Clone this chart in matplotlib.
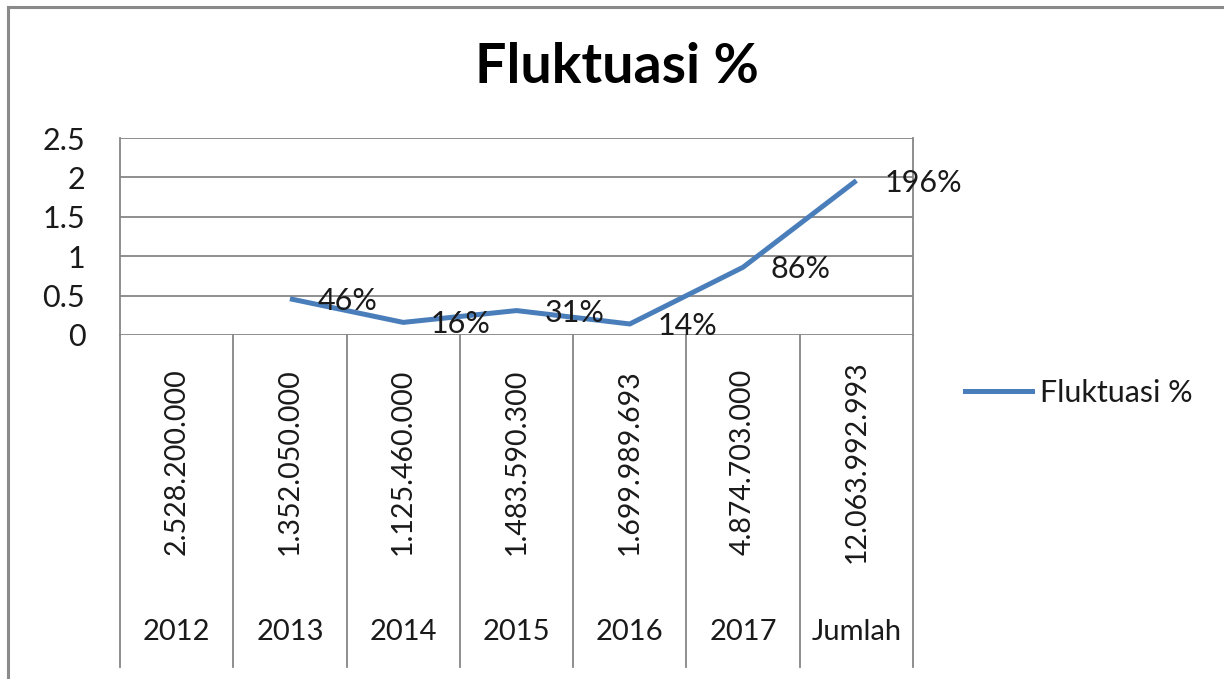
import matplotlib
matplotlib.use("Agg")
import matplotlib.pyplot as plt
from matplotlib.lines import Line2D
import numpy as np

plt.rcParams["font.family"] = ["Lato", "DejaVu Sans"]

# --- data ---
categories = ["2012", "2013", "2014", "2015", "2016", "2017", "Jumlah"]
amounts = ["2.528.200.000", "1.352.050.000", "1.125.460.000", "1.483.590.300",
           "1.699.989.693", "4.874.703.000", "12.063.992.993"]
fluktuasi = [np.nan, 0.46, 0.16, 0.31, 0.14, 0.86, 1.96]
value_labels = ["", "46%", "16%", "31%", "14%", "86%", "196%"]
yticks = [0, 0.5, 1, 1.5, 2, 2.5]
ytick_labels = ["0", "0.5", "1", "1.5", "2", "2.5"]

LINE_C = "#4a7ebb"
GRID_C = "#868686"
TXT_C = "#1a1a1a"
W, H = 1224, 679

fig = plt.figure(figsize=(W / 100, H / 100), dpi=100)
fig.patch.set_facecolor("white")

# outer chart border (left + top visible)
fig.add_artist(Line2D([8 / W, 8 / W], [0, 1 - 7 / H], color="#8a8a8a", lw=2.2,
                      transform=fig.transFigure))
fig.add_artist(Line2D([8 / W, 1], [1 - 7 / H, 1 - 7 / H], color="#8a8a8a", lw=2.2,
                      transform=fig.transFigure))

left, right, top, bot = 120 / W, 913 / W, 138 / H, 335 / H
ax = fig.add_axes([left, 1 - bot, right - left, bot - top])
x = np.arange(len(categories))
ax.plot(x, fluktuasi, color=LINE_C, lw=3.6, solid_capstyle="butt",
        solid_joinstyle="miter", label="Fluktuasi %", zorder=3)
for xi, v, lab in zip(x, fluktuasi, value_labels):
    if lab:
        ax.annotate(lab, (xi, v), xytext=(20, -1.5), textcoords="offset points",
                    ha="left", va="center", fontsize=22, color=TXT_C,
                    zorder=4)

ax.set_xlim(-0.5, len(categories) - 0.5)
ax.set_ylim(0, 2.5)
ax.set_yticks(yticks)
ax.set_yticklabels(ytick_labels, fontsize=22, color=TXT_C)
ax.tick_params(axis="y", length=0, pad=25)
ax.set_xticks([])
for y in yticks:
    ax.axhline(y, color=GRID_C, lw=1.3, zorder=1)
for s in ["top", "bottom"]:
    ax.spines[s].set_visible(False)
for s in ["left", "right"]:
    ax.spines[s].set_color(GRID_C)
    ax.spines[s].set_linewidth(1.3)

# multi-level category table below the plot area
tr = ax.get_xaxis_transform()
table_bottom = -(667 - 335) / (335 - 138)
for b in np.arange(len(categories) + 1) - 0.5:
    ax.add_artist(Line2D([b, b], [0, table_bottom], color=GRID_C, lw=1.3,
                         transform=tr, clip_on=False))
amount_y = -(462 - 335) / (335 - 138)
year_y = -(632 - 335) / (335 - 138)
for xi, amt, cat in zip(x, amounts, categories):
    ax.text(xi, amount_y, amt, transform=tr, rotation=90, ha="center",
            va="center", fontsize=20.5, color=TXT_C)
    ax.text(xi, year_y, cat, transform=tr, ha="center", va="center",
            fontsize=21, color=TXT_C)

fig.text(617 / W, 1 - 67 / H, "Fluktuasi %", ha="center", va="center",
         fontsize=40, fontweight="bold", color="black")

fig.legend(handles=[Line2D([], [], color=LINE_C, lw=3.6)], labels=["Fluktuasi %"],
           loc="center left", bbox_to_anchor=(965 / W, 1 - 393 / H),
           frameon=False, fontsize=22, handlelength=2.2, handletextpad=0.25,
           borderpad=0, borderaxespad=0, labelcolor=TXT_C)

fig.savefig("out.png", dpi=100)
